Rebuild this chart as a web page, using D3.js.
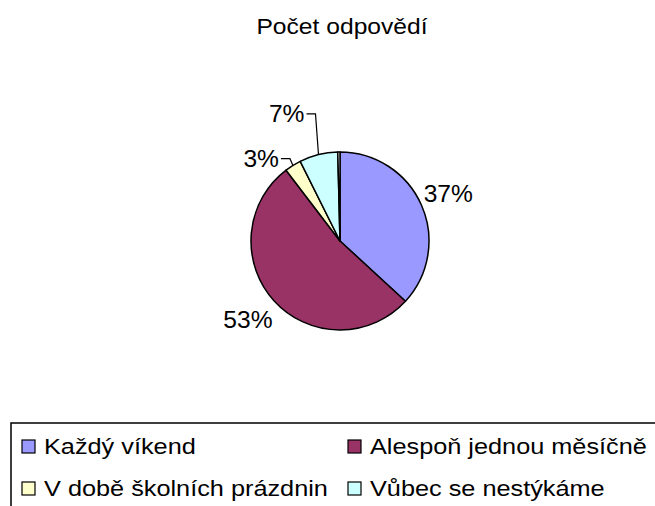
<!DOCTYPE html>
<html>
<head>
<meta charset="utf-8">
<script src="https://cdn.jsdelivr.net/npm/d3@7"></script>
<style>
  body { margin: 0; background: #fff; }
  text { font-family: "Liberation Sans", Arial, sans-serif; fill: #000; }
</style>
</head>
<body>
<script>
    const categories = ["Každý víkend", "Alespoň jednou měsíčně", "V době školních prázdnin", "Vůbec se nestýkáme", ""];
    const values = [37, 53, 3, 7, 0.4];
    const colors = ["#9999FF", "#993366", "#FFFFCC", "#CCFFFF", "#FFFFFF"];
    const title = "Počet odpovědí";

    const width = 655, height = 506;
    const cx = 340, cy = 241, radius = 89;

    const svg = d3.select("body").append("svg")
        .attr("width", width)
        .attr("height", height);

    // the source text is a bit wider than plain Arial, so stretch it sideways
    function wideText(parent, x, y, str, size, sx, anchor) {
        return parent.append("text")
            .attr("transform", `translate(${x},${y}) scale(${sx},1)`)
            .attr("text-anchor", anchor || "start")
            .attr("dominant-baseline", "central")
            .attr("font-size", size)
            .text(str);
    }

    wideText(svg, cx + 2, 26, title, 22, 1.12, "middle");

    const pie = d3.pie().sort(null).value(d => d)(values);
    const arc = d3.arc().innerRadius(0).outerRadius(radius);
    const total = d3.sum(values);
    const fmt = d3.format(".0%");

    const g = svg.append("g").attr("transform", `translate(${cx},${cy})`);

    g.selectAll("path")
        .data(pie)
        .join("path")
        .attr("d", arc)
        .attr("fill", (d, i) => colors[i])
        .attr("stroke", "#000")
        .attr("stroke-width", 1.5)
        .attr("stroke-linejoin", "round");

    // labels: big slices sit beside the pie, small ones get a leader line
    const leaderRadius = [null, null, 97, 131];
    pie.forEach((d, i) => {
        if (!categories[i]) return;
        const a = (d.startAngle + d.endAngle) / 2;
        const s = Math.sin(a), c = -Math.cos(a);
        const label = fmt(d.value / total);
        if (leaderRadius[i] == null) {
            const r = 92, w = 48, h = 17;
            wideText(g, r * s + Math.sign(s) * w / 2, r * c + c * h * 1.45, label, 23, 1.07, "middle");
        } else {
            const lr = leaderRadius[i];
            const x0 = radius * s, y0 = radius * c;
            const x1 = x0 - 3, y1 = lr * c;
            const x2 = x1 - 9;
            g.append("polyline")
                .attr("points", [[x0, y0], [x1, y1], [x2, y1]].map(p => p.join(",")).join(" "))
                .attr("fill", "none")
                .attr("stroke", "#000")
                .attr("stroke-width", 1.2);
            wideText(g, x2 - 2, y1, label, 23, 1.07, "end");
        }
    });

    // legend
    const legend = svg.append("g");
    legend.append("rect")
        .attr("x", 11)
        .attr("y", 423)
        .attr("width", 700)
        .attr("height", 120)
        .attr("fill", "#fff")
        .attr("stroke", "#000")
        .attr("stroke-width", 1.5);

    const legendCols = [22, 348];
    const legendRows = [447, 489];
    categories.forEach((name, i) => {
        if (!name) return;
        const x = legendCols[i % 2], y = legendRows[Math.floor(i / 2)];
        legend.append("rect")
            .attr("x", x)
            .attr("y", y - 7)
            .attr("width", 13)
            .attr("height", 13)
            .attr("fill", colors[i])
            .attr("stroke", "#000")
            .attr("stroke-width", 1.2);
        wideText(legend, x + 22, y, name, 22, 1.15);
    });
</script>
</body>
</html>
